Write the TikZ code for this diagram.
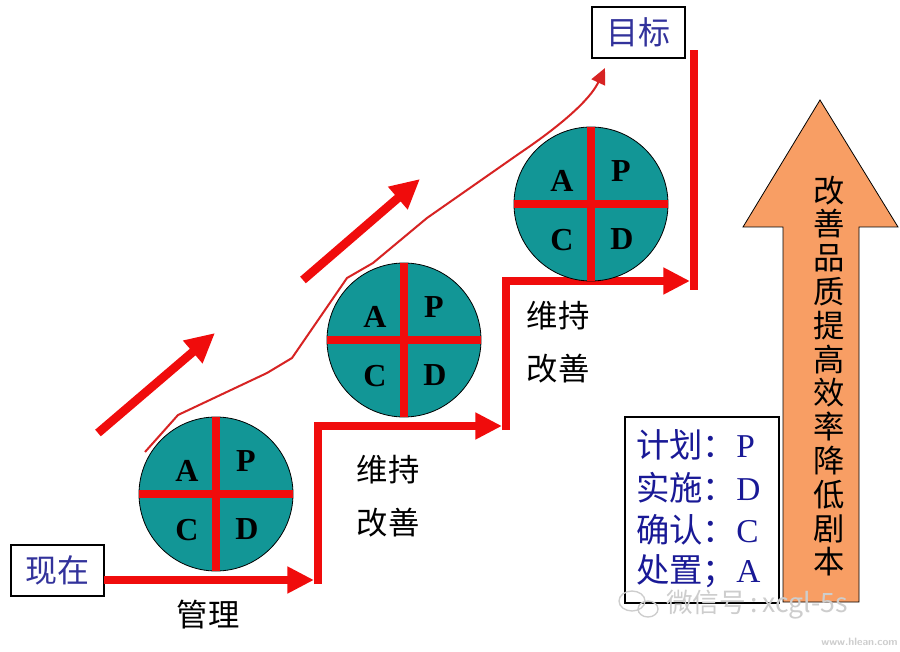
\documentclass[tikz,border=0pt]{standalone}
\usepackage{fontspec}
\setmainfont{Liberation Serif}
\newfontfamily\cjk{Noto Sans CJK SC}
\usetikzlibrary{arrows.meta,calc}
\definecolor{pdteal}{RGB}{18,150,150}
\definecolor{pdred}{RGB}{240,12,12}
\definecolor{thinred}{RGB}{215,35,35}
\definecolor{boxblue}{RGB}{50,50,155}
\definecolor{legblue}{RGB}{25,25,150}
\definecolor{arroworange}{RGB}{248,158,100}
\definecolor{wmgray}{RGB}{205,205,205}
\begin{document}
\begin{tikzpicture}[x=0.75pt,y=-0.75pt,
  pdcacircle/.style={circle, draw=black, line width=0.6pt, fill=pdteal, minimum size=115.5pt, inner sep=0pt, outer sep=0pt},
  crossbar/.style={draw=pdred, line width=6pt},
  pdcaletter/.style={font=\fontsize{24}{24}\selectfont\bfseries, text=black, inner sep=0pt},
  stairline/.style={draw=pdred, line width=6pt},
  stairarrow/.style={stairline, -{Triangle[length=20pt,width=19pt]}},
  bigdiag/.style={draw=pdred, line width=6.5pt, -{Triangle[length=22pt,width=21pt]}},
  thincurve/.style={draw=thinred, line width=1.5pt, -{Triangle[length=12pt,width=11pt]}},
  labelbox/.style={draw=black, line width=0.8pt, fill=white, text=boxblue, font=\cjk\fontsize{24}{24}\selectfont, inner sep=0pt, minimum width=69.75pt, minimum height=38.25pt},
  cjklabel/.style={font=\cjk\fontsize{23.5}{39.5}\selectfont, align=center, text=black, inner sep=0pt},
  legtext/.style={font=\cjk\fontsize{25}{25}\selectfont, text=legblue, inner sep=0pt, anchor=base west},
  bigarrow/.style={draw=black, line width=0.6pt, fill=arroworange},
  wmark/.style={text=wmgray, inner sep=0pt},
]
\useasboundingbox (0,0) rectangle (900,652);
\fill[white] (0,0) rectangle (900,652);

% thin curved trend line
\draw[thincurve] (145,452) -- (178,415) -- (267,373) -- (292,358) -- (347,278) -- (373,263) -- (427,218) -- (520,153) .. controls (560,126) and (590,100) .. (605,68);

% diagonal thick arrows
\coordinate (d1a) at (98,433);
\coordinate (d1b) at (215,333);
\coordinate (d2a) at (303,280);
\coordinate (d2b) at (420,179);
\draw[bigdiag] (d1a) -- (d1b);
\draw[bigdiag] (d2a) -- (d2b);

% boxes
\node[labelbox] (now) at (57.5,570.5) {现在};
\node[labelbox] (goal) at (638.5,32.5) {目标};

% staircase
\coordinate (s0) at (104,580);
\coordinate (s1) at (314,580);
\coordinate (s2) at (318,584);
\coordinate (s3) at (318,426);
\coordinate (s4) at (502,426);
\coordinate (s5) at (506,430);
\coordinate (s6) at (506,281);
\coordinate (s7) at (690,281);
\coordinate (s8) at (694,290);
\coordinate (s9) at (694,50);
\draw[stairarrow] (s0) -- (s1);
\draw[stairarrow] (s2) -- (s3) -- (s4);
\draw[stairarrow] (s5) -- (s6) -- (s7);
\draw[stairline] (s8) -- (s9);

% PDCA circles
\node[pdcacircle] (c1) at (216,494) {};
\node[pdcacircle] (c2) at (404,340) {};
\node[pdcacircle] (c3) at (591,204) {};
\foreach \c in {c1,c2,c3} {
  \draw[crossbar] (\c.north) -- (\c.south);
  \draw[crossbar] (\c.west) -- (\c.east);
  \node[pdcaletter] at ($(\c)+(-29,-23)$) {A};
  \node[pdcaletter] at ($(\c)+(30,-33)$) {P};
  \node[pdcaletter] at ($(\c)+(-29,36)$) {C};
  \node[pdcaletter] at ($(\c)+(31,35)$) {D};
}

% step labels
\node[cjklabel] (lbl1) at (208,615) {管理};
\node[cjklabel] (lbl2) at (388,496) {维持\\改善};
\node[cjklabel] (lbl3) at (558,342) {维持\\改善};

% big orange arrow
\draw[bigarrow] (783,602) -- (783,227) -- (743,227) -- (820,100) -- (898,227) -- (859,227) -- (859,602) -- cycle;
\node[font=\cjk\fontsize{23.5}{25.35}\selectfont, align=center, inner sep=0pt] (arrowtext) at (829,376)
  {改\\善\\品\\质\\提\\高\\效\\率\\降\\低\\剧\\本};

% legend
\node[draw=black, line width=0.8pt, fill=white, minimum width=115.5pt, minimum height=139.5pt, inner sep=0pt] (legend) at (702,510) {};
\node[legtext] (l1) at (636,457) {计划：{\rmfamily P}};
\node[legtext] (l2) at (636,500) {实施：{\rmfamily D}};
\node[legtext] (l3) at (636,542) {确认：{\rmfamily C}};
\node[legtext] (l4) at (636,582) {处置；{\rmfamily A}};

% watermark
\draw[wmgray, line width=1pt] (632,601) ellipse [x radius=13, y radius=10];
\draw[wmgray, line width=1pt] (648,609) ellipse [x radius=10, y radius=8];
\node[wmark, anchor=west, font=\cjk\fontsize{20}{20}\selectfont] (wm) at (666,605) {微信号\,:\,xcgl-5s};
\node[wmark, anchor=east, font=\sffamily\bfseries\fontsize{8}{8}\selectfont] (url) at (898,642) {www.hlean.com};
\end{tikzpicture}
\end{document}
